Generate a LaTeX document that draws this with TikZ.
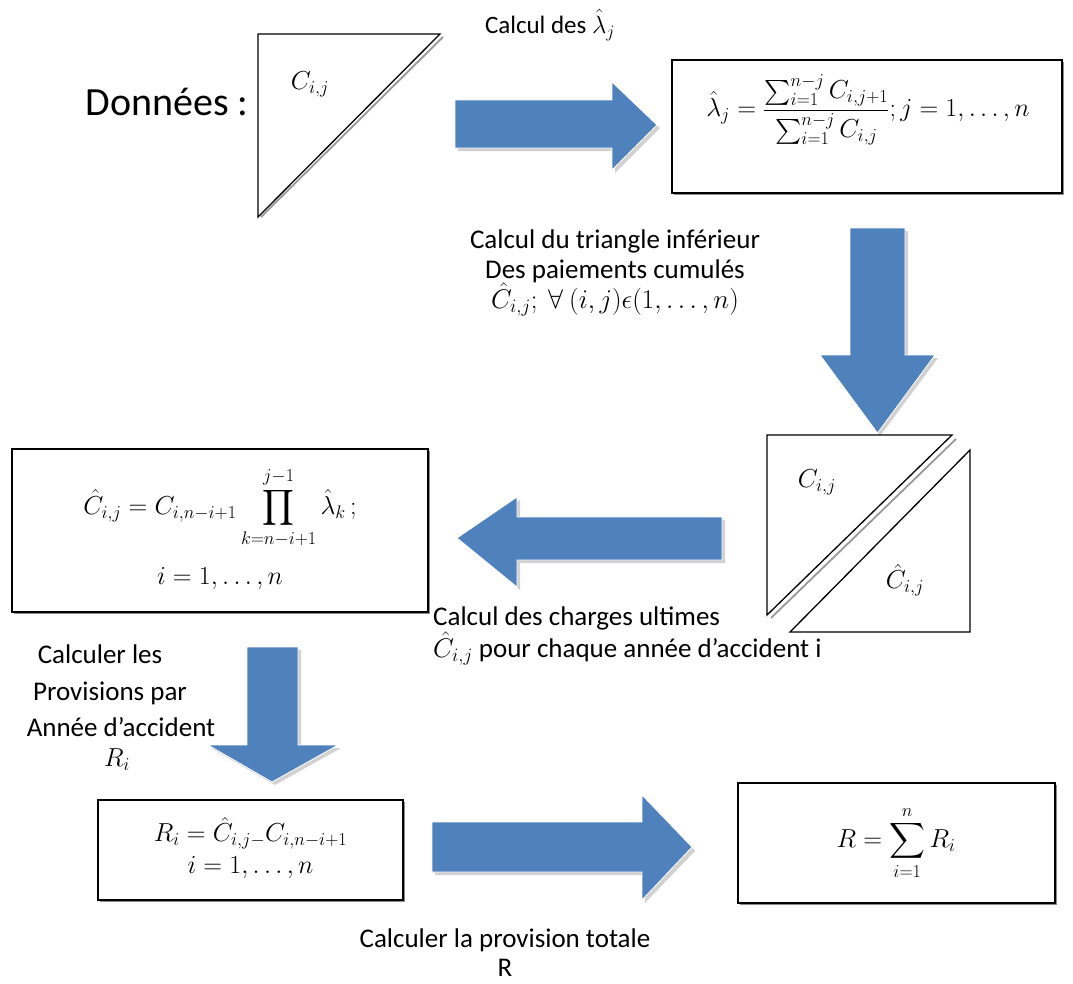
\RequirePackage{fix-cm}
\documentclass[tikz,border=0pt]{standalone}
\usepackage{amsmath}
\usepackage{fontspec}
\setmainfont{Carlito}
\usetikzlibrary{shadows}
\definecolor{ablue}{RGB}{79,129,189}
\tikzset{
  box/.style={draw=black, line width=1.3pt, fill=white,
    drop shadow={shadow xshift=1.5pt, shadow yshift=-1.5pt, fill=black!45, opacity=1}},
  tri/.style={draw=black, line width=1.3pt, fill=white},
  triShadow/.style={draw=black!40, line width=1.8pt},
  blockarrow/.style={fill=ablue, draw=white, line width=0.8pt},
  arrowShadow/.style={fill=black!18},
  lbl/.style={font=\fontsize{27}{30}\selectfont, inner sep=0pt, align=center},
  mth/.style={font=\fontsize{26}{30}\selectfont, inner sep=0pt, align=center},
}
\begin{document}
\begin{tikzpicture}[x=1pt, y=-1pt]
\useasboundingbox (0,0) rectangle (1073,983);
\fill[white] (0,0) rectangle (1073,983);

% ---------- Données triangle ----------
\node[font=\fontsize{40}{46}\selectfont, inner sep=0pt] (donnees) at (167,102) {Données :};
\draw[triShadow] (261,217) -- (443,37);
\draw[tri] (258,34) -- (440,34) -- (258,217) -- cycle;
\node[mth] (c1) at (310,84) {$C_{i,j}$};

% ---------- arrow 1 ----------
\fill[arrowShadow] (458,151) -- (615,151) -- (615,173) -- (660,128) -- (615,85) -- (615,103) -- (458,103) -- cycle;
\draw[blockarrow] (455,100) -- (612,100) -- (612,82) -- (657,125) -- (612,170) -- (612,148) -- (455,148) -- cycle;
\node[font=\fontsize{25}{29}\selectfont, inner sep=0pt] (l1) at (550,25) {Calcul des $\hat{\lambda}_j$};

% ---------- box 1 ----------
\node[box, minimum width=390pt, minimum height=133pt] (b1) at (867,126.5) {};
\node[mth] (f1) at (868,110) {$\hat{\lambda}_j=\dfrac{\sum_{i=1}^{n-j}C_{i,j+1}}{\sum_{i=1}^{n-j}C_{i,j}};j=1,\dots,n$};

% ---------- arrow 2 ----------
\node[lbl] (l2) at (615,273) {Calcul du triangle inférieur\\Des paiements cumulés\\$\hat{C}_{i,j};\ \forall\ (i,j)\epsilon(1,\dots,n)$};
\fill[arrowShadow] (853,231) -- (908,231) -- (908,358) -- (938,358) -- (880,436) -- (823,358) -- (853,358) -- cycle;
\draw[blockarrow] (850,228) -- (905,228) -- (905,355) -- (935,355) -- (877.5,433) -- (820,355) -- (850,355) -- cycle;

% ---------- double triangle ----------
\draw[triShadow] (771,618) -- (956,439);
\draw[tri] (767,435) -- (952,435) -- (767,615) -- cycle;
\draw[tri] (970,450) -- (970,632) -- (790,632) -- cycle;
\node[mth] (c2) at (817,482) {$C_{i,j}$};
\node[mth] (c3) at (905,580) {$\hat{C}_{i,j}$};

% ---------- arrow 3 ----------
\fill[arrowShadow] (725,520) -- (725,563) -- (520,563) -- (520,590) -- (460,540) -- (520,500) -- (520,520) -- cycle;
\draw[blockarrow] (722,517) -- (722,560) -- (517,560) -- (517,587) -- (457,538) -- (517,497) -- (517,517) -- cycle;
\node[lbl, anchor=west, align=left] (l3) at (433,636) {Calcul des charges ultimes\\$\hat{C}_{i,j}$ pour chaque année d’accident i};

% ---------- box 2 ----------
\node[box, minimum width=416pt, minimum height=163pt] (b2) at (220,530.5) {};
\node[mth] (f2a) at (220,508) {$\hat{C}_{i,j}=C_{i,n-i+1}\displaystyle\prod_{k=n-i+1}^{j-1}\hat{\lambda}_k\,;$};
\node[mth] (f2b) at (220,578) {$i=1,\dots,n$};

% ---------- arrow 4 ----------
\node[lbl] (l4a) at (100,654) {Calculer les};
\node[lbl] (l4b) at (110,693) {Provisions par};
\node[lbl] (l4c) at (121,727) {Année d’accident};
\node[mth] (l4d) at (117,760) {$R_i$};
\fill[arrowShadow] (250,650) -- (301,650) -- (301,748) -- (341,748) -- (275,785) -- (211,748) -- (250,748) -- cycle;
\draw[blockarrow] (247,647) -- (298,647) -- (298,745) -- (338,745) -- (272,782) -- (208,745) -- (247,745) -- cycle;

% ---------- box 3 ----------
\node[box, minimum width=305pt, minimum height=100pt] (b3) at (250.5,850) {};
\node[mth] (f3a) at (250.5,833) {$R_i=\hat{C}_{i,j-}C_{i,n-i+1}$};
\node[mth] (f3b) at (250.5,867) {$i=1,\dots,n$};

% ---------- arrow 5 ----------
\fill[arrowShadow] (435,875) -- (645,875) -- (645,903) -- (695,851) -- (645,798) -- (645,825) -- (435,825) -- cycle;
\draw[blockarrow] (432,822) -- (642,822) -- (642,795) -- (692,847) -- (642,900) -- (642,872) -- (432,872) -- cycle;
\node[lbl] (l5a) at (505,940) {Calculer la provision totale};
\node[lbl] (l5b) at (505,968) {R};

% ---------- box 4 ----------
\node[box, minimum width=317pt, minimum height=120pt] (b4) at (896.5,843) {};
\node[mth] (f4) at (896,843) {$R=\displaystyle\sum_{i=1}^{n}R_i$};
\end{tikzpicture}
\end{document}
